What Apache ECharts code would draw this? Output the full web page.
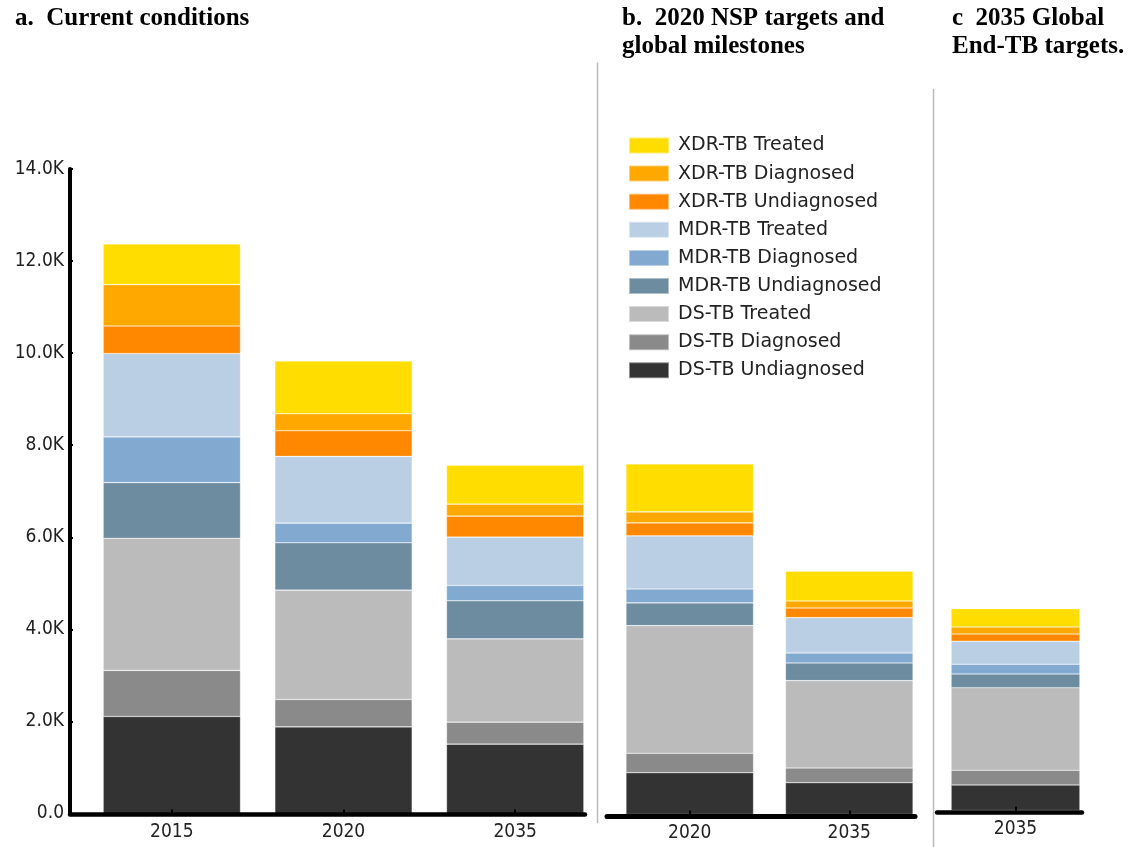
<!DOCTYPE html>
<html>
<head>
<meta charset="utf-8">
<script src="https://cdn.jsdelivr.net/npm/echarts@6/dist/echarts.min.js"></script>
<style>
    html, body { margin: 0; padding: 0; background: #fff; }
    #chart { width: 1131px; height: 847px; }
</style>
</head>
<body>
<div id="chart"></div>
<script>
// categories of each panel
var yearsA = ['2015', '2020', '2035'];
var yearsB = ['2020', '2035'];
var yearsC = ['2035'];

// values per segment: a2015, a2020, a2035, b2020, b2035, c2035
var dsUndiagnosed  = [2108, 1882, 1506, 908, 691, 554];
var dsDiagnosed    = [1000, 595, 478, 422, 319, 320];
var dsTreated      = [2870, 2375, 1810, 2773, 1897, 1794];
var mdrUndiagnosed = [1210, 1028, 826, 493, 385, 298];
var mdrDiagnosed   = [993, 428, 334, 304, 217, 211];
var mdrTreated     = [1810, 1449, 1050, 1152, 767, 500];
var xdrUndiagnosed = [600, 557, 456, 282, 211, 158];
var xdrDiagnosed   = [897, 369, 261, 239, 152, 152];
var xdrTreated     = [885, 1145, 847, 1043, 646, 398];

var yTicks = [0, 2000, 4000, 6000, 8000, 10000, 12000, 14000];

var segments = [
    {name: 'DS-TB Undiagnosed',  color: '#333333', data: dsUndiagnosed},
    {name: 'DS-TB Diagnosed',    color: '#8a8a8a', data: dsDiagnosed},
    {name: 'DS-TB Treated',      color: '#bbbbbb', data: dsTreated},
    {name: 'MDR-TB Undiagnosed', color: '#6d8ca0', data: mdrUndiagnosed},
    {name: 'MDR-TB Diagnosed',   color: '#82a9d0', data: mdrDiagnosed},
    {name: 'MDR-TB Treated',     color: '#bacfe4', data: mdrTreated},
    {name: 'XDR-TB Undiagnosed', color: '#ff8800', data: xdrUndiagnosed},
    {name: 'XDR-TB Diagnosed',   color: '#ffa800', data: xdrDiagnosed},
    {name: 'XDR-TB Treated',     color: '#ffdd00', data: xdrTreated}
];

var panels = [
    {stack: 'a', cats: yearsA, from: 0, to: 3},
    {stack: 'b', cats: yearsB, from: 3, to: 5},
    {stack: 'c', cats: yearsC, from: 5, to: 6}
];

var yMax = yTicks[yTicks.length - 1];
var labelFont = "'DejaVu Sans Condensed', 'DejaVu Sans', sans-serif";

var chart = echarts.init(document.getElementById('chart'));

var grids = [
    // bar grids
    {left: 86, width: 515, top: 169, height: 644.5},
    {left: 610, width: 319, top: 170, height: 644.5},
    {left: 935, width: 161, top: 166, height: 644.5},
    // frame grids (axis lines)
    {left: 70, width: 515, top: 169, height: 644.5},
    {left: 607, width: 308, top: 170, height: 644.5},
    {left: 937, width: 145, top: 166, height: 644.5}
];

var xAxes = [];
var yAxes = [];
var series = [];

panels.forEach(function (p, i) {
    xAxes.push({
        type: 'category',
        gridIndex: i,
        data: p.cats,
        z: 10,
        axisLine: {show: false},
        axisTick: {show: true, alignWithLabel: true, inside: true, length: 4,
            lineStyle: {color: '#000', width: 2}},
        axisLabel: {fontFamily: labelFont, fontSize: 19, color: '#222', margin: 9}
    });
    yAxes.push({type: 'value', gridIndex: i, min: 0, max: yMax, show: false});
});

var frameOffsets = [1, 2, 1.5];
var frameWidths = [4.5, 5, 4.5];
panels.forEach(function (p, i) {
    xAxes.push({
        type: 'value',
        gridIndex: i + 3,
        min: 0, max: 1,
        z: 10,
        offset: frameOffsets[i],
        axisLine: {show: true, onZero: false, lineStyle: {color: '#000', width: frameWidths[i]}},
        axisTick: {show: false},
        axisLabel: {show: false},
        splitLine: {show: false}
    });
});

yAxes.push({
    type: 'value',
    gridIndex: 3,
    min: 0,
    max: yMax,
    interval: 2000,
    z: 10,
    axisLine: {show: true, lineStyle: {color: '#000', width: 4}},
    axisTick: {show: true, inside: true, length: 3, lineStyle: {color: '#000', width: 2}},
    splitLine: {show: false},
    axisLabel: {
        fontFamily: labelFont, fontSize: 19, color: '#222', margin: 6,
        formatter: function (v) {
            return v === 0 ? '0.0' : (v / 1000).toFixed(1) + 'K';
        }
    }
});
yAxes.push({type: 'value', gridIndex: 4, min: 0, max: yMax, show: false});
yAxes.push({type: 'value', gridIndex: 5, min: 0, max: yMax, show: false});

panels.forEach(function (p, i) {
    segments.forEach(function (s) {
        series.push({
            name: s.name,
            type: 'bar',
            stack: p.stack,
            xAxisIndex: i,
            yAxisIndex: i,
            barWidth: '80%',
            itemStyle: {color: s.color, borderColor: 'rgba(255,255,255,0.45)', borderWidth: 0.6},
            data: s.data.slice(p.from, p.to)
        });
    });
});

var legendNames = segments.map(function (s) { return s.name; }).reverse();

var titleStyle = {
    fontFamily: 'Liberation Serif',
    fontWeight: 'bold',
    fontSize: 25,
    lineHeight: 28,
    color: '#000'
};

chart.setOption({
    backgroundColor: '#fff',
    animation: false,
    title: [
        {text: 'a.  Current conditions', left: 10, top: 0, textStyle: titleStyle},
        {text: 'b.  2020 NSP targets and\nglobal milestones', left: 617, top: 0, textStyle: titleStyle},
        {text: 'c  2035 Global\nEnd-TB targets.', left: 947, top: 0, textStyle: titleStyle}
    ],
    legend: {
        data: legendNames,
        orient: 'vertical',
        left: 623,
        top: 131,
        itemWidth: 40,
        itemHeight: 16,
        itemGap: 9.1,
        icon: 'rect',
        textStyle: {
            fontFamily: 'DejaVu Sans',
            fontSize: 19,
            lineHeight: 16,
            color: '#222',
            padding: [0, 0, 0, 4]
        }
    },
    grid: grids,
    xAxis: xAxes,
    yAxis: yAxes,
    series: series,
    graphic: [
        {type: 'line', shape: {x1: 597.5, y1: 62.5, x2: 597.5, y2: 823},
            style: {stroke: '#bbbbbb', lineWidth: 1.5}},
        {type: 'line', shape: {x1: 933.5, y1: 89, x2: 933.5, y2: 847},
            style: {stroke: '#bbbbbb', lineWidth: 1.5}}
    ]
});
</script>
</body>
</html>
